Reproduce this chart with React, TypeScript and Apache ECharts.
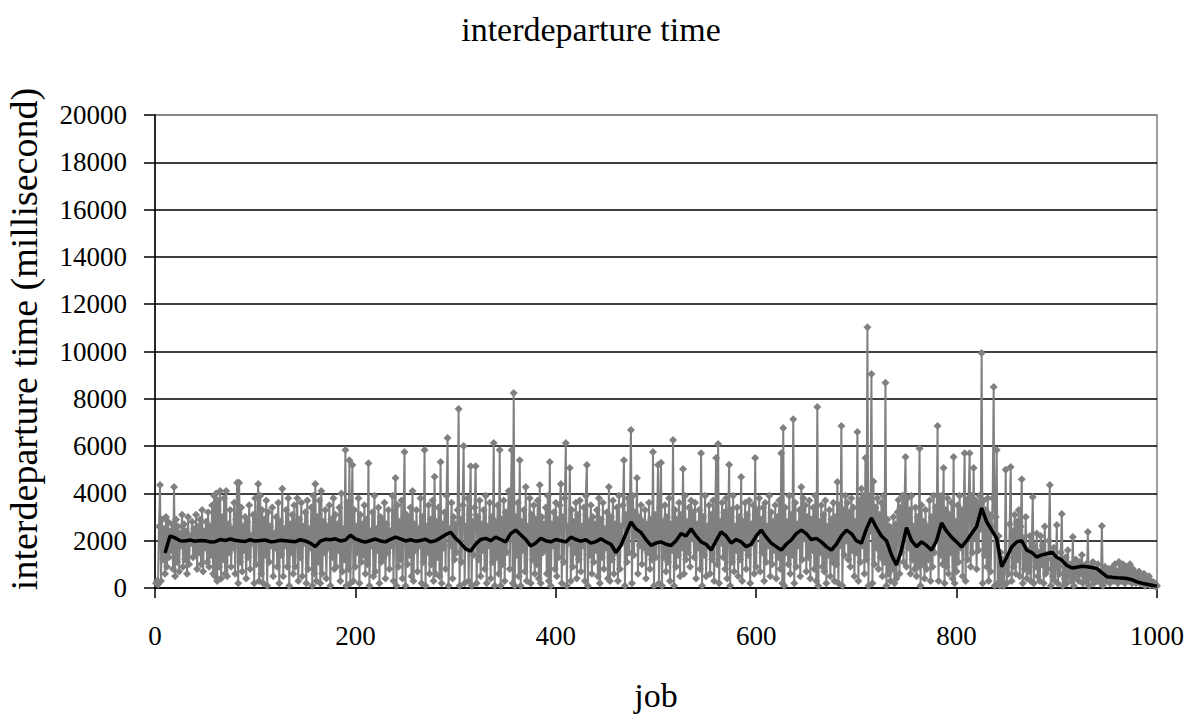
import React, { useEffect, useRef } from "react";
import * as echarts from "echarts";

const titleText = "interdeparture time";
const xAxisName = "job";
const yAxisName = "interdeparture time (millisecond)";

const xTicks = { min: 0, max: 1000, interval: 200 };
const yTicks = { min: 0, max: 20000, interval: 2000 };

// interdeparture time of job 1..1000 (ms)
const jobValues = [
  200,300,150,2600,4350,300,2900,1200,2500,600,3000,900,2800,1300,2400,1600,2700,800,4270,500,
  2900,1100,2600,700,2300,1800,3100,900,2700,1200,2400,600,3000,1000,2200,1900,2800,1300,2500,1400,
  3100,800,2600,1500,2900,1000,3300,700,2400,1700,2800,1100,3200,900,2600,1400,3500,600,3900,500,
  4000,300,3700,900,4100,400,3000,1200,3800,600,4100,500,2700,1500,3300,900,2500,1700,3600,600,
  2900,4450,200,4450,1100,3400,700,2600,1600,3000,400,2800,1300,3500,800,2200,1900,3100,200,3800,
  1000,2700,4400,300,3900,600,3300,200,2900,1400,3700,100,3200,1100,2600,1800,3400,500,2300,1700,
  3000,900,3600,200,2800,1400,4200,500,2500,1800,3300,900,3800,100,2700,1500,3100,600,3500,900,
  2400,3800,300,2900,1300,3600,500,2600,1900,3200,200,3700,800,2500,1700,3400,100,3900,600,4400,
  300,3000,1100,3700,200,4100,600,2800,1500,3300,400,2600,1700,3500,100,2900,1300,3800,800,3100,
  900,2700,1600,3400,300,4000,700,2500,1200,5830,100,3600,800,5400,200,2800,5200,300,3300,900,
  2600,1500,3800,200,3100,1100,2700,1400,3500,600,2900,1000,5280,100,2400,1800,3200,500,3900,700,
  2500,1600,3400,200,3000,1100,2800,1300,3600,400,2700,1500,3300,800,2400,1800,3900,300,3000,4650,
  100,3500,900,2800,1200,3700,400,2600,5750,100,3100,1000,2900,1400,3400,500,4100,300,2700,1600,
  3300,700,2500,1800,3800,200,3000,1100,5830,100,2600,1500,3500,600,2900,1000,3700,300,4700,600,
  2800,1300,3400,500,5330,200,2700,1700,3200,800,3900,6340,100,2500,1800,3600,400,3000,1200,2700,
  1500,3300,7570,100,2900,1100,3500,6000,200,2600,1700,3800,300,3100,5150,100,2800,1400,3400,5150,
  200,3000,1200,3700,500,2700,1600,3300,800,3900,200,2600,1800,3600,400,3000,1100,6130,100,2800,
  1300,3500,600,5830,100,2900,1000,3700,300,3200,1500,2700,4100,800,3400,5830,200,8250,100,3000,
  1400,3600,500,5400,100,2800,1600,3300,700,4270,300,2600,1900,3800,200,3100,1200,3500,600,2900,
  1000,3700,400,4350,200,3000,1500,2700,1700,3400,600,3900,300,5330,100,2700,1800,3200,800,3600,
  500,2900,1300,3500,4400,200,3000,1100,3800,6130,100,2600,1900,5070,300,3300,900,2800,1500,3600,
  400,3100,1200,3700,700,2600,1800,3400,300,3900,5200,100,2800,1400,3500,600,3000,1100,2700,1600,
  3300,500,3800,200,2900,1300,3600,800,2500,1700,3200,400,4270,300,3000,1200,3700,600,2700,1500,
  3400,300,3900,800,2600,1900,3500,5400,100,3100,1100,3800,1500,3600,6680,200,3900,1400,3200,2200,
  4650,600,3000,1800,3500,1000,2800,1700,3300,400,2700,1500,3600,800,2900,1200,5750,100,3100,1300,
  2600,5200,200,3400,5300,100,2800,1300,3500,700,3000,1100,3800,300,2700,1600,6260,100,3300,900,
  2900,1400,3600,500,3100,1700,5030,600,3900,1200,2800,1500,3400,900,3700,2100,3200,1300,3600,400,
  2700,1700,3300,800,5700,100,3000,1400,3900,500,2600,1800,3500,600,3100,1200,3700,300,2900,5500,
  1000,6090,200,2800,1900,3600,1300,3200,800,3800,400,2700,5210,100,3300,1100,3900,700,2600,1600,
  3400,500,3000,1200,4690,300,2800,1700,3600,800,3100,1400,3700,200,2700,1900,3500,600,5500,900,
  3300,2400,3800,700,2900,1500,3400,300,3600,1100,2600,1800,3900,500,3200,1000,2800,1600,3500,400,
  3000,1300,3700,800,5700,200,6770,100,3400,1500,2800,1000,3900,600,3100,1400,7140,200,3600,900,
  2700,1800,3300,500,4270,1200,3800,2100,3500,700,3000,1300,3700,400,2900,1600,3400,800,3900,300,
  7650,100,2800,1500,3500,900,3100,700,3700,200,2600,1400,3300,500,2900,1100,3600,300,3000,1000,
  4480,200,3500,1800,6850,100,3300,1400,3900,2000,3600,1200,3200,900,3800,1600,3400,500,2800,1500,
  6600,300,3700,1100,4200,1800,3900,600,5500,1200,11030,100,3800,2400,9050,200,4500,1000,3400,1700,
  3800,800,3100,1300,3600,500,3900,1100,8680,100,2900,600,2600,300,2400,800,3000,200,2700,400,
  3200,3720,600,3400,1500,3900,1100,3600,5540,900,3800,1700,3300,600,3900,1200,2600,800,3400,500,
  3000,900,5900,100,3500,1000,2800,400,3300,800,2600,1200,3700,300,3000,900,3900,1500,3400,2200,
  6850,300,3700,1400,3900,1000,5070,200,3300,900,3800,600,3100,1500,3600,400,5540,200,2800,700,
  3500,1100,3900,1700,3300,500,3000,5700,300,3600,1200,3800,5700,900,3900,1500,5070,2100,3700,800,
  3500,1600,3900,2500,9940,200,3700,1400,3300,900,3800,300,3100,700,2600,3800,8500,100,3000,5830,
  200,2200,100,1500,300,1200,100,900,5000,200,1300,600,2700,5120,300,2400,900,3100,600,2800,
  1200,3300,500,2600,4600,200,2100,800,3000,400,1600,700,2200,300,1900,3850,200,1700,900,2300,
  500,1500,300,2200,1000,1800,200,2600,600,1400,800,2000,4350,100,1200,500,1700,300,900,2660,
  200,1100,600,1500,3130,100,900,400,1300,200,1600,500,800,1000,300,2160,100,700,1200,400,
  900,300,1100,600,1400,200,800,500,1000,300,2370,100,700,900,400,1100,200,800,600,300,
  1000,400,700,200,2620,100,600,900,300,700,500,800,200,600,400,900,300,1000,500,700,
  200,1100,400,800,300,1000,600,200,900,400,700,300,1000,500,200,800,400,600,200,500,
  300,700,200,500,400,300,600,100,400,300,200,500,100,300,200,250,100,200,50,100,
];

// moving average (black line), at jobs 10, 15, 20, ..., 1000
const maFirstJob = 10;
const maJobStep = 5;
const maValues = [
  1480,2200,2120,2000,1990,2030,1980,2010,2000,1950,
  1960,2050,2010,2070,2020,1990,1970,2040,1990,2010,
  2030,1960,1970,2020,2000,1980,1960,2040,1990,1900,
  1750,1980,2060,2040,2080,1990,2030,2230,2080,2000,
  1940,2010,2070,1990,1950,2060,2150,2080,1990,2040,
  1980,2010,2060,1950,2000,2120,2250,2360,2100,1900,
  1650,1560,1850,2050,2100,2000,2150,2050,1950,2300,
  2450,2250,2050,1780,1900,2100,2000,1950,2050,2000,
  1950,2150,2050,1980,2040,1900,1960,2080,1950,1850,
  1500,1800,2300,2790,2500,2350,2050,1800,1900,1950,
  1850,1800,2000,2300,2200,2500,2200,1950,1850,1600,
  2000,2370,2200,1900,2050,1950,1750,1850,2200,2450,
  2150,1900,1750,1600,1850,2030,2300,2450,2300,2050,
  2100,1950,1750,1600,1850,2200,2450,2300,2000,1900,
  2500,2960,2550,2200,2000,1400,970,1600,2550,2000,
  1750,1950,1800,1600,2000,2750,2400,2150,1950,1730,
  2000,2300,2600,3380,2800,2450,2100,900,1300,1730,
  1950,2000,1600,1500,1310,1400,1450,1520,1300,1180,
  950,850,880,920,900,870,820,650,480,450,
  430,420,400,350,260,200,160,120,80,
];

const FONT = '"Liberation Serif", "Times New Roman", serif';

export default function App() {
  const ref = useRef<HTMLDivElement>(null);

  useEffect(() => {
    if (!ref.current) return;
    const chart = echarts.init(ref.current, undefined, { renderer: "svg" });

    const scatterData = jobValues.map((v, i) => [i + 1, v]);
    const maData = maValues.map((v, i) => [maFirstJob + i * maJobStep, v]);

    const nLines = (yTicks.max - yTicks.min) / yTicks.interval + 1;
    const splitColors = Array.from({ length: nLines }, (_, i) =>
      i === nLines - 1 ? "#808080" : "#000000"
    );

    chart.setOption({
      animation: false,
      backgroundColor: "#ffffff",
      textStyle: { fontFamily: FONT, color: "#000" },
      grid: {
        left: 155,
        right: 37,
        top: 115,
        bottom: 131,
        show: true,
        borderColor: "#808080",
        borderWidth: 1.5,
        backgroundColor: "transparent",
      },
      xAxis: {
        type: "value",
        min: xTicks.min,
        max: xTicks.max,
        interval: xTicks.interval,
        axisLine: { show: true, onZero: false, lineStyle: { color: "#000", width: 1.5 } },
        axisTick: { show: true, inside: false, length: 10, lineStyle: { color: "#000", width: 1.5 } },
        axisLabel: {
          fontSize: 27,
          color: "#000",
          margin: 34,
          fontFamily: FONT,
          formatter: (v: number) => String(v),
        },
        splitLine: { show: false },
        name: xAxisName,
        nameLocation: "middle",
        nameGap: 90,
        nameTextStyle: { fontSize: 34, color: "#000", fontFamily: FONT },
      },
      yAxis: {
        type: "value",
        min: yTicks.min,
        max: yTicks.max,
        interval: yTicks.interval,
        axisLine: { show: true, onZero: false, lineStyle: { color: "#000", width: 1.5 } },
        axisTick: { show: true, inside: false, length: 11, lineStyle: { color: "#000", width: 1.5 } },
        axisLabel: {
          fontSize: 27,
          color: "#000",
          margin: 28,
          fontFamily: FONT,
          formatter: (v: number) => String(v),
        },
        splitLine: { show: true, lineStyle: { color: splitColors, width: 1.5 } },
      },
      graphic: [
        {
          type: "text",
          x: 591,
          y: 29,
          style: {
            text: titleText,
            font: `34px ${FONT}`,
            fill: "#000",
            align: "center",
            verticalAlign: "middle",
          },
        },
        {
          type: "text",
          x: 24,
          y: 339,
          rotation: Math.PI / 2,
          style: {
            text: yAxisName,
            font: `38px ${FONT}`,
            fill: "#000",
            align: "center",
            verticalAlign: "middle",
          },
        },
      ],
      series: [
        {
          type: "line",
          data: scatterData,
          symbol: "diamond",
          symbolSize: 8,
          showSymbol: true,
          showAllSymbol: true,
          itemStyle: { color: "#808080" },
          lineStyle: { color: "#808080", width: 2 },
          z: 2,
        },
        {
          type: "line",
          data: maData,
          showSymbol: false,
          symbol: "none",
          lineStyle: { color: "#000000", width: 3.5 },
          z: 3,
        },
      ],
    });

    return () => chart.dispose();
  }, []);

  return (
    <div
      ref={ref}
      style={{ position: "fixed", left: 0, top: 0, width: 1194, height: 719, background: "#fff" }}
    />
  );
}
